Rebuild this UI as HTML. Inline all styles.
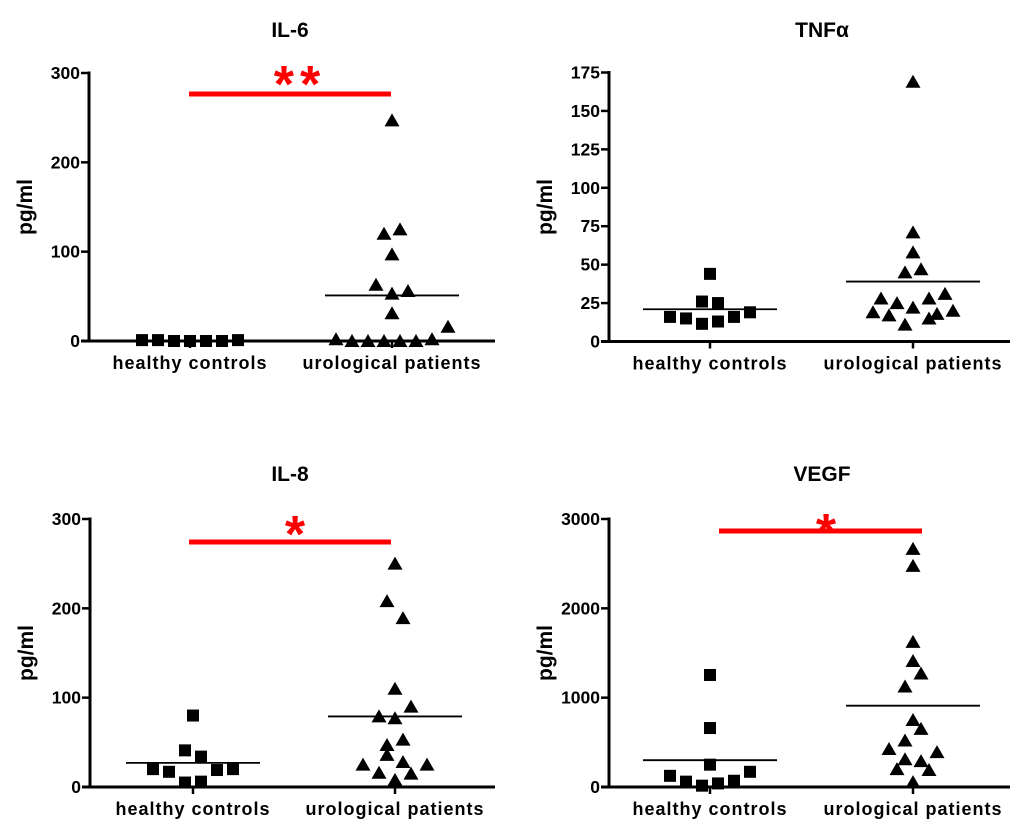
<!DOCTYPE html>
<html><head><meta charset="utf-8">
<style>
html,body{margin:0;padding:0;background:#fff;}
svg{display:block;font-family:"Liberation Sans",Arial,sans-serif;}
text{font-weight:bold;}
</style></head>
<body>
<svg id="chart" width="1024" height="835" viewBox="0 0 1024 835" xmlns="http://www.w3.org/2000/svg"></svg>
<script>
// ---- data ----
const categories = ["healthy controls", "urological patients"];
const panelTitles = ["IL-6", "TNFα", "IL-8", "VEGF"];
const il6Ticks = [0, 100, 200, 300];
const tnfTicks = [0, 25, 50, 75, 100, 125, 150, 175];
const il8Ticks = [0, 100, 200, 300];
const vegfTicks = [0, 1000, 2000, 3000];

const il6Healthy = [1, 1, 0, 0, 0, 0, 1];
const il6HealthyCol = [-3, -2, -1, 0, 1, 2, 3];
const il6Patients = [247, 120, 125, 97, 63, 53, 56, 31, 16, 2, 0, 0, 0, 0, 0, 2];
const il6PatientsCol = [0, -0.5, 0.5, 0, -1, 0, 1, 0, 3.5, -3.5, -2.5, -1.5, -0.5, 0.5, 1.5, 2.5];
const il6Medians = [0, 51];

const tnfHealthy = [44, 16, 15, 26, 25, 11.5, 13, 16, 19];
const tnfHealthyCol = [0, -2.5, -1.5, -0.5, 0.5, -0.5, 0.5, 1.5, 2.5];
const tnfPatients = [169, 71, 58, 45, 47, 28, 25, 28, 31, 19, 17, 22, 15, 18, 20, 11];
const tnfPatientsCol = [0, 0, 0, -0.5, 0.5, -2, -1, 1, 2, -2.5, -1.5, 0, 1, 1.5, 2.5, -0.5];
const tnfMedians = [21, 39];

const il8Healthy = [80, 41, 34, 20, 17, 19, 20, 5, 6];
const il8HealthyCol = [0, -0.5, 0.5, -2.5, -1.5, 1.5, 2.5, -0.5, 0.5];
const il8Patients = [250, 208, 189, 110, 90, 79, 77, 53, 47, 36, 25, 28, 25, 16, 15, 8];
const il8PatientsCol = [0, -0.5, 0.5, 0, 1, -1, 0, 0.5, -0.5, -0.5, -2, 0.5, 2, -1, 1, 0];
const il8Medians = [27, 79];

const vegfHealthy = [1254, 660, 250, 125, 60, 15, 40, 70, 170];
const vegfHealthyCol = [0, 0, 0, -2.5, -1.5, -0.5, 0.5, 1.5, 2.5];
const vegfPatients = [2665, 2475, 1625, 1410, 1270, 1125, 750, 650, 520, 425, 390, 310, 290, 200, 190, 55];
const vegfPatientsCol = [0, 0, 0, 0, 0.5, -0.5, 0, 0.5, -0.5, -1.5, 1.5, -0.5, 0.5, -1, 1, 0];
const vegfMedians = [300, 910];

// ---- drawing ----
const NS = "http://www.w3.org/2000/svg";
const svg = document.getElementById("chart");
function mk(tag, attrs, parent) {
  const e = document.createElementNS(NS, tag);
  for (const k in attrs) e.setAttribute(k, attrs[k]);
  (parent || svg).appendChild(e);
  return e;
}

function panel(p) {
  const g = mk("g", {});
  
  
  const yMax = p.ticks[p.ticks.length - 1];
  const yS = v => p.y0 - (v / yMax) * (p.y0 - p.yTop);
  const xS = i => p.cx[i];
  const t = mk("text", {x: p.titleX, y: p.titleY, "text-anchor": "middle", "font-size": 21}, g);
  t.textContent = p.title;
  
  
  const ya = mk("line", {x1: p.ax, y1: yS(yMax) - 1.5, x2: p.ax, y2: p.y0 + 1.5, stroke: "#000", "stroke-width": 3}, g);
  
  
  p.ticks.forEach(v => {
    const tk = mk("line", {x1: p.ax - 8, y1: yS(v), x2: p.ax, y2: yS(v), stroke: "#000", "stroke-width": 2.5}, g);
    
    
    const tl = mk("text", {x: p.ax - 9, y: yS(v) + 6, "text-anchor": "end", "font-size": 17.5}, g);
    tl.textContent = String(v);
    
    
  });
  const xa = mk("line", {x1: p.ax - 8, y1: p.y0, x2: p.axEnd, y2: p.y0, stroke: "#000", "stroke-width": 3}, g);
  
  
  categories.forEach((c, i) => {
    const tk = mk("line", {x1: xS(i), y1: p.y0, x2: xS(i), y2: p.y0 + 7, stroke: "#000", "stroke-width": 2.5}, g);
    
    
    const tl = mk("text", {x: xS(i), y: p.y0 + 28, "text-anchor": "middle", "font-size": 18, "letter-spacing": 1}, g);
    tl.textContent = c;
    
    
  });
  const yt = mk("text", {x: 0, y: 0, "text-anchor": "middle", "font-size": 21, transform: `translate(${p.ax - 57},${(p.y0 + p.yTop) / 2}) rotate(-90)`}, g);
  yt.textContent = "pg/ml";
  
  
  p.medians.forEach((m, i) => {
    const ml = mk("line", {x1: xS(i) - 67, y1: yS(m), x2: xS(i) + 67, y2: yS(m), stroke: "#000", "stroke-width": 1.8}, g);
    
    
  });
  p.healthy.forEach((v, j) => {
    const x = xS(0) + p.hCol[j] * 16, y = yS(v);
    const r = mk("rect", {x: x - 6, y: y - 6, width: 12, height: 12, fill: "#000"}, g);
    
    
  });
  p.patients.forEach((v, j) => {
    const x = xS(1) + p.pCol[j] * 16, y = yS(v);
    const tr = mk("polygon", {points: `${x},${y - 7} ${x - 7.5},${y + 6} ${x + 7.5},${y + 6}`, fill: "#000"}, g);
    
    
  });
  if (p.sig) {
    const sl = mk("line", {x1: p.sig.x1, y1: p.sig.y, x2: p.sig.x2, y2: p.sig.y, stroke: "#ff0000", "stroke-width": 5}, g);
    
    
    const st = mk("text", {x: p.sig.sx, y: p.sig.y + p.sig.off, "text-anchor": "middle", "font-size": 52, fill: "#ff0000", "letter-spacing": p.sig.stars.length > 1 ? 6 : 0}, g);
    st.textContent = p.sig.stars;
    
    
  }
}

panel({key: "il6", title: panelTitles[0], titleX: 290, titleY: 37, ax: 89, axEnd: 495, y0: 341, yTop: 73, cx: [190, 392],
  ticks: il6Ticks, healthy: il6Healthy, hCol: il6HealthyCol, patients: il6Patients, pCol: il6PatientsCol, medians: il6Medians,
  sig: {x1: 189, x2: 391, y: 94, sx: 300, stars: "**", off: 8}});
panel({key: "tnf", title: panelTitles[1], titleX: 822, titleY: 37, ax: 609, axEnd: 1010, y0: 341.5, yTop: 72.5, cx: [710, 913],
  ticks: tnfTicks, healthy: tnfHealthy, hCol: tnfHealthyCol, patients: tnfPatients, pCol: tnfPatientsCol, medians: tnfMedians});
panel({key: "il8", title: panelTitles[2], titleX: 290, titleY: 481, ax: 90, axEnd: 495, y0: 787, yTop: 519, cx: [193, 395],
  ticks: il8Ticks, healthy: il8Healthy, hCol: il8HealthyCol, patients: il8Patients, pCol: il8PatientsCol, medians: il8Medians,
  sig: {x1: 189, x2: 391, y: 542, sx: 295, stars: "*", off: 10}});
panel({key: "vegf", title: panelTitles[3], titleX: 822, titleY: 481, ax: 609, axEnd: 1010, y0: 787, yTop: 519, cx: [710, 913],
  ticks: vegfTicks, healthy: vegfHealthy, hCol: vegfHealthyCol, patients: vegfPatients, pCol: vegfPatientsCol, medians: vegfMedians,
  sig: {x1: 719, x2: 922, y: 531, sx: 826, stars: "*", off: 19}});
</script>
</body></html>
